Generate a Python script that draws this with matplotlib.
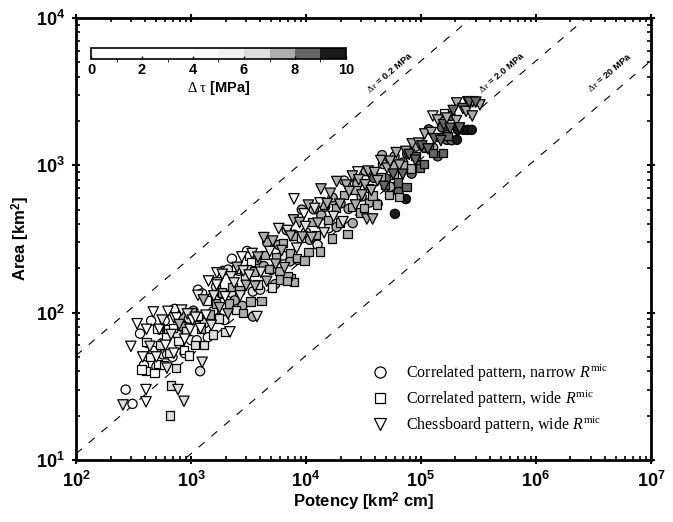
import numpy as np
import matplotlib
matplotlib.use("Agg")
import matplotlib.pyplot as plt
from matplotlib.colors import ListedColormap, BoundaryNorm
from matplotlib.lines import Line2D
from matplotlib.ticker import FuncFormatter, LogLocator, NullFormatter

plt.rcParams['font.family'] = ['Liberation Sans', 'DejaVu Sans']
plt.rcParams['mathtext.fontset'] = 'custom'
plt.rcParams['mathtext.bf'] = 'Liberation Sans:bold'
plt.rcParams['mathtext.rm'] = 'Liberation Serif'
plt.rcParams['mathtext.it'] = 'Liberation Serif:italic'

# ---------------- data ----------------
# Correlated pattern, narrow R^mic  (circles): potency [km^2 cm], area [km^2], stress drop [MPa]
circ_potency = [270, 310, 570, 680, 850, 1150, 1200, 1900, 2270, 2500, 3070, 3460,
                17200, 26700, 46800, 59400, 74100, 210000, 235000, 255000, 277000,
                168000, 185000, 206000,
                360, 390, 420, 450, 470, 500, 530, 560, 590, 620, 650, 690, 720, 760, 800, 840,
                880, 920, 960, 1000, 1050,
                1120, 1180, 1250, 1320, 1400, 1480, 1560, 1650, 1750, 1850, 1950, 2100, 2250,
                2400, 2600, 2800, 3000,
                3200, 3450, 3700, 4000, 4300, 4600, 5000, 5400, 5800, 6300, 6800, 7300, 7900,
                8500, 9200, 10000,
                10800, 11700, 12600, 13600, 14700, 15800, 17000, 18500, 20000, 21500, 23500,
                25500, 28000, 30500,
                33000, 36000, 39000, 42000, 46000, 50000, 54000, 59000, 64000, 70000, 76000,
                83000, 90000, 98000,
                107000, 117000, 128000, 140000, 153000, 167000, 182000]
circ_area = [30, 24, 52, 103, 94, 143, 40, 192, 232, 195, 262, 94,
             580, 750, 1020, 468, 590, 1740, 1740, 1740, 1740,
             1490, 1480, 1490,
             72, 44, 62, 88, 55, 43, 77, 62, 88, 52, 75, 50, 106, 71, 61, 95,
             53, 82, 91, 65, 103,
             65, 93, 135, 85, 68, 125, 102, 150, 92, 134, 89, 196, 136,
             121, 192, 111, 173,
             197, 139, 227, 143, 207, 299, 195, 156, 288, 244, 363, 223, 338,
             228, 500, 351,
             312, 502, 289, 457, 523, 374, 604, 381, 551, 787, 506,
             405, 749, 614,
             913, 559, 821, 546, 1172, 813, 715, 1149, 662, 1045, 1197,
             878, 1339, 998,
             1312, 1754, 1315, 1151, 1807, 1612, 2162]
circ_dtau = [1, 1, 2, 1, 1, 2, 6.5, 2, 1, 2, 1, 7.5,
             5.5, 6, 7.5, 9.2, 9, 9.5, 9.8, 9.9, 9.9,
             8.5, 8.8, 9,
             2, 0.5, 3, 1, 4, 2, 1, 5, 3, 1, 6.5, 2, 5, 6.5, 3, 7.5,
             5, 2, 6.5, 4, 7.5,
             5, 6.5, 3, 6.5, 4, 7.5, 5, 6.5, 4, 7.5, 5, 6.5, 6.5,
             7.5, 6.5, 7.5, 6.5,
             7.5, 6.5, 7.5, 6.5, 7.5, 7.5, 6.5, 7.5, 7.5, 6.5, 7.5, 7.5, 6.5,
             7.5, 7.5, 6.5,
             7.5, 7.5, 6.5, 7.5, 7.5, 6.5, 7.5, 7.5, 7.5, 6.5, 7.5,
             7.5, 7.5, 7.5,
             7.5, 7.5, 8.5, 7.5, 7.5, 8.5, 7.5, 7.5, 8.5, 7.5, 8.5,
             8.5, 7.5, 8.5,
             8.5, 8.5, 7.5, 8.5, 8.5, 8.5, 8.5]

# Correlated pattern, wide R^mic  (squares)
sq_potency = [406, 656, 516, 631, 670, 2460, 3190, 3330, 64400, 158500, 57100,
              6000, 7400, 7900, 6900,
              370, 410, 440, 480, 510, 540, 580, 610, 650, 700, 740, 780, 830, 870, 910, 960, 1020,
              1080, 1150, 1220, 1300, 1380, 1460, 1550, 1650, 1750, 1870, 2000, 2150, 2300, 2450,
              2650, 2850, 3050,
              3300, 3550, 3800, 4100, 4400, 4750, 5100, 5500, 5900, 6300, 6800, 7300, 7800, 8400,
              9000, 9700,
              10500, 11300, 12200, 13200, 14300, 15500, 16800, 18200, 19700, 21300, 23000, 25000,
              27000, 29500,
              32000, 35000, 38000, 41500, 45000, 49000, 53000, 58000, 63000, 69000, 75000, 82000,
              90000, 98000,
              107000, 117000, 128000, 140000, 155000, 170000]
sq_area = [40, 20, 45, 77, 32, 198, 243, 221, 610, 2270, 1000,
           168, 172, 162, 178,
           41, 63, 50, 39, 77, 60, 44, 68, 53, 79, 42, 64, 81, 56, 75, 51, 101,
           60, 95, 78, 60, 121, 97, 71, 115, 91, 137, 74, 115, 149, 104,
           143, 99, 197,
           119, 190, 155, 120, 247, 197, 148, 238, 192, 298, 164, 253, 331, 234,
           322, 226,
           258, 412, 337, 260, 537, 426, 319, 511, 408, 627, 341, 522,
           680, 477,
           514, 699, 624, 542, 832, 736, 626, 855, 764, 1009, 713, 951,
           1151, 960,
           1021, 1320, 1208, 1549, 1213, 1587]
sq_dtau = [1, 6.5, 3, 2, 6.5, 1, 2, 2, 7.5, 5.5, 7.5,
           7.5, 7.5, 7.5, 7.5,
           3, 1, 5, 2, 4, 6.5, 3, 5, 6.5, 2, 6.5, 5, 7.5, 3, 6.5, 5, 7.5,
           6.5, 4, 7.5, 6.5, 5, 7.5, 6.5, 7.5, 6.5, 7.5, 6.5, 7.5, 7.5, 6.5,
           7.5, 7.5, 6.5,
           7.5, 7.5, 6.5, 7.5, 7.5, 7.5, 6.5, 7.5, 7.5, 7.5, 7.5, 7.5, 7.5, 7.5,
           6.5, 7.5,
           7.5, 7.5, 7.5, 7.5, 7.5, 7.5, 7.5, 7.5, 7.5, 7.5, 7.5, 7.5,
           7.5, 7.5,
           7.5, 7.5, 7.5, 7.5, 7.5, 8.5, 7.5, 7.5, 8.5, 7.5, 8.5, 7.5,
           8.5, 8.5,
           8.5, 8.5, 8.5, 8.5, 8.5, 8.5]

# Chessboard pattern, wide R^mic  (triangles)
tri_potency = [256, 406, 406, 869, 618, 770, 1250, 711, 2770, 1680, 1720, 2180, 3750,
               7870, 9620, 13240, 28300, 35300, 33900, 38000, 127000, 205000, 256000, 283000, 326000,
               300, 340, 380, 410, 440, 470, 500, 530, 560, 600, 630, 670, 710, 750, 790, 830,
               880, 930, 980, 1030,
               1090, 1150, 1210, 1280, 1350, 1420, 1500, 1580, 1670, 1770, 1870, 1980, 2100,
               2230, 2370, 2520, 2680, 2850, 3020,
               3200, 3400, 3600, 3820, 4050, 4300, 4560, 4850, 5150, 5450, 5800, 6150, 6500,
               6900, 7350, 7800, 8300, 8800, 9300, 9900,
               10500, 11200, 11900, 12700, 13500, 14400, 15300, 16300, 17400, 18500, 19700,
               21000, 22400, 23800, 25300, 27000, 28800, 30700,
               32700, 34800, 37000, 39500, 42000, 44800, 47700, 50800, 54000, 57500, 61000,
               65000, 69500, 74000, 79000, 84000, 89500, 95500,
               102000, 108000, 115000, 123000, 131000, 140000, 149000, 158000, 168000, 180000,
               191000, 204000, 217000, 232000, 247000, 263000, 280000, 300000]
tri_area = [23.6, 30, 24.8, 25, 42, 30, 46, 92, 239, 186, 159, 74, 94,
            592, 468, 556, 902, 888, 432, 432, 2160, 2650, 2700, 2700, 2570,
            59, 84, 50, 77, 59, 101, 50, 77, 89, 60, 102, 71, 53, 92, 83, 104,
            66, 98, 77, 89,
            93, 131, 78, 122, 96, 164, 82, 130, 154, 108, 182, 128, 98,
            175, 159, 203, 130, 192, 153,
            180, 252, 151, 238, 188, 323, 163, 260, 306, 213, 372, 264, 202,
            361, 331, 426, 274, 409, 326, 384,
            537, 324, 510, 405, 691, 348, 549, 646, 449, 776, 544,
            414, 734, 663, 846, 538, 798, 629,
            738, 914, 675, 893, 786, 1077, 718, 956, 1065, 870, 1219,
            1003, 869, 1243, 1185, 1398, 1083, 1415,
            1353, 1632, 1291, 1670, 1514, 2031, 1471, 1890, 2094, 1783,
            2356, 2010, 1793, 2428, 2325, 2681, 2162, 2684]
tri_dtau = [6.5, 2, 3, 6.5, 6, 6.5, 6, 2, 2, 2, 3, 4, 6.5,
            3, 4, 4, 4, 5, 7.5, 7.5, 6, 7.5, 7.5, 7.5, 7.5,
            4, 2, 5, 1, 6.5, 3, 5, 2, 6.5, 4, 2, 6.5, 5, 3, 7.5, 5,
            4, 6.5, 5, 3,
            6.5, 5, 4, 7.5, 5, 4, 6.5, 6.5, 5, 7.5, 6.5, 5.5, 7.5,
            6.5, 6.5, 7.5, 6.5, 6.5, 7.5,
            6.5, 6.5, 7.5, 7.5, 6.5, 7.5, 7.5, 6.5, 7.5, 7.5, 6.5, 7.5, 7.5,
            6.5, 7.5, 7.5, 6.5, 7.5, 7.5, 6.5,
            7.5, 7.5, 6.5, 7.5, 7.5, 6.5, 7.5, 7.5, 6.5, 7.5, 7.5,
            6.5, 7.5, 7.5, 7.5, 7.5, 7.5, 7.5,
            7.5, 7.5, 7.5, 7.5, 7.5, 7.5, 8.5, 7.5, 7.5, 8.5, 7.5,
            7.5, 8.5, 7.5, 8.5, 7.5, 8.5, 7.5,
            8.5, 7.5, 8.5, 7.5, 8.5, 7.5, 8.5, 8.5, 7.5, 8.5,
            8.5, 7.5, 8.5, 8.5, 7.5, 8.5, 7.5, 8.5]

legend_labels = [r'Correlated pattern, narrow $R^{\mathrm{mic}}$',
                 r'Correlated pattern, wide $R^{\mathrm{mic}}$',
                 r'Chessboard pattern, wide $R^{\mathrm{mic}}$']
stress_drops = [0.2, 2.0, 20.0]
stress_labels = [r'$\Delta\tau$ = 0.2 MPa', r'$\Delta\tau$ = 2.0 MPa', r'$\Delta\tau$ = 20 MPa']
label_potency = [53700, 506000, 4.4e6]
label_area = [4300, 4300, 4300]
cbar_ticks = [0, 2, 4, 6, 8, 10]
gray_levels = [1.0, 1.0, 1.0, 1.0, 0.975, 0.95, 0.87, 0.68, 0.40, 0.10]

# ---------------- figure ----------------
fig = plt.figure(figsize=(6.73, 5.22), dpi=100)
ax = fig.add_axes([0.113, 0.119, 0.854, 0.8465])

cmap = ListedColormap([(g, g, g) for g in gray_levels])
norm = BoundaryNorm(np.arange(0, 11, 1), cmap.N)

# reference lines of constant stress drop
P_line = np.logspace(2, 7, 200)
for dt in stress_drops:
    A_line = 0.811 * (P_line / dt) ** (2.0 / 3.0)
    ax.plot(P_line, A_line, ls=(0, (7, 8)), color='black', lw=0.8, zorder=1)

kw = dict(cmap=cmap, norm=norm, edgecolors='black', linewidths=0.9, zorder=3)
ax.scatter(circ_potency, circ_area, c=circ_dtau, marker='o', s=44, **kw)
ax.scatter(sq_potency, sq_area, c=sq_dtau, marker='s', s=36, **kw)
sc = ax.scatter(tri_potency, tri_area, c=tri_dtau, marker='v', s=56, **kw)

ax.set_xscale('log')
ax.set_yscale('log')
ax.set_xlim(1e2, 1e7)
ax.set_ylim(1e1, 1e4)

fmt = FuncFormatter(lambda v, p: r'$\mathbf{10^{%d}}$' % int(round(np.log10(v))))
ax.xaxis.set_major_formatter(fmt)
ax.yaxis.set_major_formatter(fmt)
ax.xaxis.set_minor_formatter(NullFormatter())
ax.yaxis.set_minor_formatter(NullFormatter())
ax.xaxis.set_major_locator(LogLocator(base=10, numticks=10))
ax.yaxis.set_major_locator(LogLocator(base=10, numticks=10))
ax.xaxis.set_minor_locator(LogLocator(base=10, subs=np.arange(2, 10), numticks=20))
ax.yaxis.set_minor_locator(LogLocator(base=10, subs=np.arange(2, 10), numticks=20))
ax.tick_params(which='major', direction='inout', length=6, width=1.5, top=True, right=True,
               labelsize=13, pad=5)
ax.tick_params(which='minor', direction='in', length=3, width=1.2, top=True, right=True)
for s in ax.spines.values():
    s.set_linewidth(2)

ax.set_xlabel(r'Potency [km$^{\mathbf{2}}$ cm]', fontsize=12, fontweight='bold', labelpad=0)
ax.set_ylabel(r'Area [km$^{\mathbf{2}}$]', fontsize=12, fontweight='bold', labelpad=3)

# labels on the stress-drop lines
fig.canvas.draw()
p0 = ax.transData.transform((1e3, 0.811 * (1e3) ** (2 / 3)))
p1 = ax.transData.transform((1e6, 0.811 * (1e6) ** (2 / 3)))
ang = np.degrees(np.arctan2(p1[1] - p0[1], p1[0] - p0[0]))
for lab, px, ay in zip(stress_labels, label_potency, label_area):
    ax.text(px, ay, lab, rotation=ang, rotation_mode='anchor', ha='center', va='center',
            fontsize=6.8, fontweight='bold', zorder=4)

# legend
handles = [Line2D([], [], marker=m, ls='none', mfc='white', mec='black', ms=ms, mew=0.9)
           for m, ms in zip(['o', 's', 'v'], [8, 7, 9])]
leg = ax.legend(handles, legend_labels, loc='upper left', bbox_to_anchor=(0.49, 0.235),
                frameon=False, prop={'family': 'Liberation Serif', 'size': 11.5},
                labelspacing=0.3, handletextpad=0.6, borderaxespad=0)

# colorbar
cax = fig.add_axes([91 / 673, 1 - 59 / 522, 255 / 673, 11 / 522])
cb = fig.colorbar(sc, cax=cax, orientation='horizontal', ticks=cbar_ticks)
cb.outline.set_linewidth(1.2)
cax.tick_params(direction='in', length=2, width=1, labelsize=10.5, pad=3)
for t in cax.get_xticklabels():
    t.set_fontweight('bold')
cb.set_label(r'$\mathrm{\Delta\ \tau}$ [MPa]', fontsize=10.5, fontweight='bold', labelpad=1)

fig.savefig('out.png', dpi=100)
